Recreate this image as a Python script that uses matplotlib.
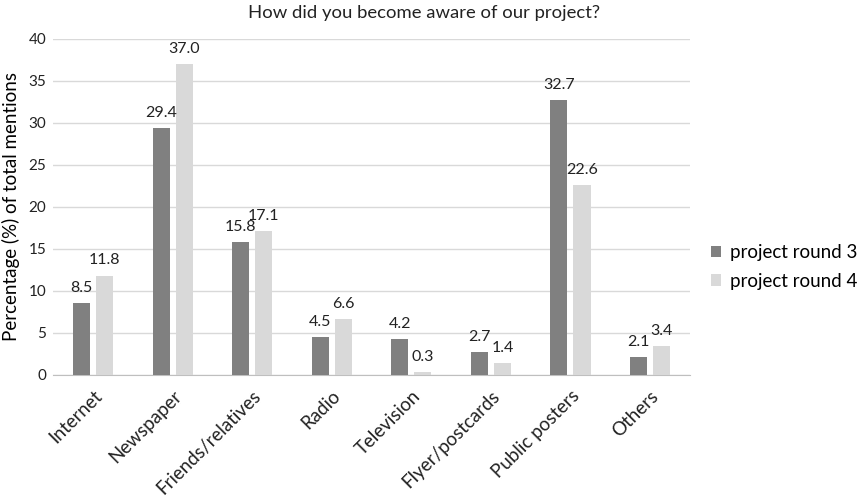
import numpy as np
import matplotlib.pyplot as plt

plt.rcParams['font.family'] = ['Lato', 'DejaVu Sans']

categories = ['Internet', 'Newspaper', 'Friends/relatives', 'Radio', 'Television',
              'Flyer/postcards', 'Public posters', 'Others']
round3 = [8.5, 29.4, 15.8, 4.5, 4.2, 2.7, 32.7, 2.1]
round4 = [11.8, 37.0, 17.1, 6.6, 0.3, 1.4, 22.6, 3.4]

fig = plt.figure(figsize=(8.58, 4.99), dpi=100)
ax = fig.add_axes([0.062, 0.249, 0.742, 0.673])

x = np.arange(len(categories))
w = 0.214
off = 0.145
b3 = ax.bar(x - off, round3, w, color='#808080', label='project round 3', zorder=3)
b4 = ax.bar(x + off, round4, w, color='#d9d9d9', label='project round 4', zorder=3)

for bars, vals in ((b3, round3), (b4, round4)):
    for rect, v in zip(bars, vals):
        ax.text(rect.get_x() + rect.get_width() / 2, v + 1.0, f'{v:.1f}',
                ha='center', va='bottom', fontsize=11.5, color='#222222')

ax.set_xlim(-0.5, len(categories) - 0.5)
ax.set_ylim(0, 40)
ax.set_yticks(range(0, 41, 5))
ax.yaxis.grid(True, color='#d9d9d9', linewidth=1, zorder=0)
ax.set_axisbelow(True)
for s in ('top', 'right', 'left'):
    ax.spines[s].set_visible(False)
ax.spines['bottom'].set_color('#bfbfbf')
ax.tick_params(axis='both', length=0, labelsize=11, colors='#222222')
ax.tick_params(axis='y', pad=5)
ax.tick_params(axis='x', labelsize=13.5, pad=9)
ax.set_xticks(x)
ax.set_xticklabels(categories, rotation=45, ha='right', rotation_mode='anchor')
ax.set_ylabel('Percentage (%) of total mentions', fontsize=13.5, labelpad=6)

fig.text(424 / 858, 1 - 13 / 499, 'How did you become aware of our project?',
         ha='center', va='center', fontsize=13.3, color='#222222')

fig.legend(loc='center left', bbox_to_anchor=(711 / 858, 1 - 267 / 499), frameon=False,
           fontsize=13.5, handlelength=0.55, handleheight=0.55, handletextpad=0.45,
           labelspacing=0.6, borderpad=0, borderaxespad=0)

fig.savefig('out.png', dpi=100)
